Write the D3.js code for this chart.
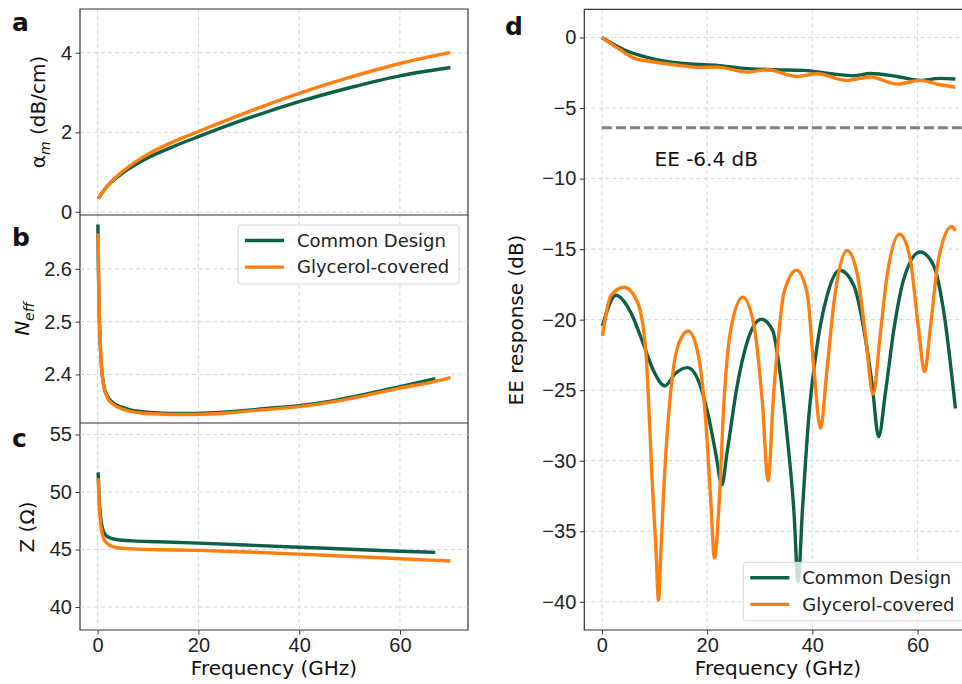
<!DOCTYPE html>
<html>
<head>
<meta charset="utf-8">
<script src="https://d3js.org/d3.v7.min.js"></script>
<style>
    body { margin: 0; background: #fff; }
    svg { display: block; font-family: "DejaVu Sans", sans-serif; }
    .grid line { stroke: #cdd2e2; stroke-dasharray: 4,3; stroke-width: 0.9; }
    .axis text { font-size: 20px; fill: #222; }
    .axis line { stroke: #333; stroke-width: 1; }
    .spine { fill: none; stroke: #333; stroke-width: 1.2; }
    .curve { fill: none; stroke-width: 3.4; stroke-linejoin: round; }
    .label { font-size: 20px; fill: #111; }
    .panel-letter { font-size: 25px; font-weight: bold; fill: #111; }
    .legend text { font-size: 18px; fill: #222; }
</style>
</head>
<body>
<svg class="target" width="962" height="684"></svg>
<script>

    // ---- data: [frequency GHz, value] ----
    let alphaCommon = [[0.1,0.33],[1,0.5],[2.5,0.72],[5,0.98],[10,1.36],[15,1.64],[20,1.89],[30,2.36],[40,2.77],[50,3.12],[60,3.42],[70,3.63]];
    let alphaGlycerol = [[0.1,0.33],[1,0.5],[2.5,0.73],[5,1.02],[10,1.45],[15,1.76],[20,2.02],[30,2.52],[40,2.98],[50,3.38],[60,3.73],[70,4.01]];

    let neffCommon = [[0.05,2.684],[0.15,2.60],[0.3,2.52],[0.5,2.46],[0.8,2.41],[1.2,2.38],[2,2.358],[3,2.347],[4.5,2.339],[6.5,2.333],[8.5,2.330],[12,2.327],[17,2.326],[22,2.327],[27,2.330],[33,2.335],[40,2.341],[46.6,2.350],[53,2.362],[60,2.377],[67,2.392]];
    let neffGlycerol = [[0.1,2.667],[0.2,2.58],[0.35,2.51],[0.55,2.455],[0.85,2.405],[1.25,2.376],[2,2.355],[3,2.344],[4.5,2.336],[6.5,2.330],[8.5,2.327],[12,2.325],[17,2.324],[22,2.325],[27,2.328],[33,2.333],[40,2.339],[46.6,2.348],[53,2.36],[60,2.374],[67,2.387],[70,2.394]];

    let zCommon = [[0.1,51.7],[0.3,49.5],[0.6,47.8],[1,46.8],[1.5,46.3],[2.5,46.0],[4,45.85],[7,45.75],[12,45.68],[20,45.55],[30,45.38],[40,45.2],[50,45.02],[60,44.85],[67,44.75]];
    let zGlycerol = [[0.1,51.2],[0.3,49.0],[0.6,47.2],[1,46.2],[1.5,45.7],[2.5,45.35],[4,45.15],[7,45.05],[12,44.98],[20,44.92],[30,44.78],[40,44.6],[50,44.4],[60,44.2],[70,44.0]];

    let eeTopCommon = [[0,0],[4.2,-0.87],[10.6,-1.58],[16.9,-1.88],[22,-1.98],[26.4,-2.17],[32.7,-2.28],[38.4,-2.33],[43.5,-2.57],[47.9,-2.71],[51,-2.55],[56.1,-2.76],[60.5,-3.04],[64.3,-2.9],[67.2,-2.94]];
    let eeTopGlycerol = [[0,0],[3,-0.75],[6.1,-1.46],[9.3,-1.7],[13.7,-1.93],[18.8,-2.12],[22,-2.1],[27.6,-2.45],[31.4,-2.28],[37.1,-2.76],[40.9,-2.57],[46.6,-3.04],[51,-2.8],[56.1,-3.3],[60.5,-3.04],[64.3,-3.35],[67.2,-3.53]];

    let eeBottomCommon = [[0.1,-20.44],[2.66,-18.27],[5.5,-19.5],[8,-21.85],[9.9,-23.7],[11.95,-24.7],[14,-23.8],[16.3,-23.4],[18.2,-24.2],[20.1,-26.6],[21.6,-29.4],[22.8,-31.7],[23.8,-29.4],[25.7,-24.7],[27.6,-21.6],[30.3,-19.97],[32.5,-20.8],[33.5,-22.8],[35.2,-28.2],[36.5,-33.6],[37.3,-38.6],[38.1,-33.6],[39.3,-27],[40.9,-21.85],[42.8,-18.3],[45.2,-16.5],[47.9,-17.6],[49.8,-20.7],[51.4,-24.7],[52.6,-28.3],[53.9,-25.15],[55.5,-20.7],[57.4,-17.1],[60.5,-15.2],[63.1,-16.2],[65,-19.5],[67.2,-26.3]];
    let eeBottomGlycerol = [[0.1,-21.15],[1.7,-18.3],[4.2,-17.7],[6.8,-18.8],[8.35,-22.3],[9.6,-31.75],[10.3,-36.5],[10.75,-39.9],[11.2,-36.5],[11.8,-31.75],[13.4,-24],[14.7,-21.6],[16.4,-20.8],[18.2,-22.3],[19.7,-27],[20.7,-32.9],[21.4,-36.9],[22.3,-32.9],[23.2,-25.85],[24.5,-20.7],[26.75,-18.4],[28.9,-20.4],[30.5,-25.85],[31.6,-31.4],[32.6,-25.5],[33.3,-22.3],[34.6,-18.1],[37,-16.5],[39,-18.1],[40.3,-23.5],[41.55,-27.7],[42.8,-23.5],[44.1,-18.8],[46.6,-15.1],[48.5,-16.7],[50.1,-21.1],[51.55,-25.3],[52.9,-21.1],[54.2,-16.9],[56.6,-13.95],[58.6,-15.7],[60.2,-20.7],[61.35,-23.7],[62.4,-20.7],[64,-15.7],[66.5,-13.4],[67.2,-13.7]];

    let freqTicks = [0, 20, 40, 60];
    let alphaTicks = [0, 2, 4];
    let neffTicks = [2.4, 2.5, 2.6];
    let zTicks = [40, 45, 50, 55];
    let eeTicks = [0, -5, -10, -15, -20, -25, -30, -35, -40];
    let eeThreshold = -6.4;
    let seriesNames = ["Common Design", "Glycerol-covered"];

    let green = "#0d5f47", orange = "#ff7f0e";

    let svg = d3.select(".target");

    let xLeft = d3.scaleLinear().domain([-3.5, 73.5]).range([80, 468]);
    let xRight = d3.scaleLinear().domain([-3.35, 70.35]).range([584.3, 972]);

    function panel(id, x, y, yTicks, fmt, showX) {
        let g = svg.append("g");
        let [x0, x1] = x.range(), [y1, y0] = y.range();

        svg.append("clipPath").attr("id", "clip-" + id)
            .append("rect").attr("x", x0).attr("y", y0).attr("width", x1 - x0).attr("height", y1 - y0);

        let grid = g.append("g").attr("class", "grid").attr("clip-path", "url(#clip-" + id + ")");
        grid.selectAll(".gx").data(freqTicks).enter().append("line")
            .attr("x1", d => x(d)).attr("x2", d => x(d)).attr("y1", y0).attr("y2", y1);
        grid.selectAll(".gy").data(yTicks).enter().append("line")
            .attr("y1", d => y(d)).attr("y2", d => y(d)).attr("x1", x0).attr("x2", x1);

        let ya = g.append("g").attr("class", "axis").attr("transform", "translate(" + x0 + ",0)")
            .call(d3.axisLeft(y).tickValues(yTicks).tickFormat(fmt).tickSize(4.5).tickPadding(3.5));
        ya.select(".domain").remove();

        if (showX) {
            let xa = g.append("g").attr("class", "axis").attr("transform", "translate(0," + y1 + ")")
                .call(d3.axisBottom(x).tickValues(freqTicks).tickFormat(d3.format("d")).tickSize(4.5).tickPadding(3.5));
            xa.select(".domain").remove();
        }

        let plot = g.append("g").attr("clip-path", "url(#clip-" + id + ")");
        return {g: g, plot: plot, x: x, y: y, x0: x0, x1: x1, y0: y0, y1: y1};
    }

    function curve(p, data, color, shape) {
        let line = d3.line()
            .x(d => p.x(d[0]))
            .y(d => p.y(d[1]))
            .curve(shape || d3.curveMonotoneX);
        p.plot.append("path").attr("class", "curve").attr("d", line(data)).attr("stroke", color);
    }

    function spine(p, sides) {
        p.g.append("path").attr("class", "spine").attr("d", sides);
    }

    function legend(x0, y0, w, h) {
        let lg = svg.append("g").attr("class", "legend");
        lg.append("rect").attr("x", x0).attr("y", y0).attr("width", w).attr("height", h)
            .attr("rx", 3).attr("fill", "#fff").attr("fill-opacity", 0.8)
            .attr("stroke", "#d6d6d6").attr("stroke-width", 1);
        [green, orange].forEach((c, i) => {
            let yy = y0 + 15.5 + i * 26.6;
            lg.append("line").attr("x1", x0 + 7).attr("x2", x0 + 46).attr("y1", yy).attr("y2", yy)
                .attr("stroke", c).attr("stroke-width", 3.4);
            lg.append("text").attr("x", x0 + 59).attr("y", yy).attr("dy", "0.35em").text(seriesNames[i]);
        });
    }

    function yLabel(x, y, build) {
        let t = svg.append("text").attr("class", "label")
            .attr("transform", "translate(" + x + "," + y + ") rotate(-90)")
            .attr("text-anchor", "middle");
        build(t);
    }

    // ---- panel a ----
    let pa = panel("a", xLeft, d3.scaleLinear().domain([-0.08, 5.1]).range([215, 9]), alphaTicks, d3.format("d"), false);
    curve(pa, alphaCommon, green);
    curve(pa, alphaGlycerol, orange);

    // ---- panel b ----
    let pb = panel("b", xLeft, d3.scaleLinear().domain([2.308, 2.702]).range([423, 215]), neffTicks, d3.format(".1f"), false);
    curve(pb, neffCommon, green);
    curve(pb, neffGlycerol, orange);

    // ---- panel c ----
    let pc = panel("c", xLeft, d3.scaleLinear().domain([38, 56]).range([630, 423]), zTicks, d3.format("d"), true);
    curve(pc, zCommon, green);
    curve(pc, zGlycerol, orange);

    spine(pa, "M80,9H468V630H80Z");
    svg.append("path").attr("class", "spine").attr("stroke", "#111").attr("d", "M80,215H468M80,423H468");

    legend(238, 225, 221, 59);

    // ---- panel d ----
    let pd = panel("d", xRight, d3.scaleLinear().domain([-42, 2]).range([630, 9.3]), eeTicks, d3.format("d"), true);
    curve(pd, eeTopCommon, green);
    curve(pd, eeTopGlycerol, orange);
    curve(pd, eeBottomCommon, green);
    curve(pd, eeBottomGlycerol, orange);

    pd.plot.append("line")
        .attr("x1", xRight(0)).attr("x2", xRight(70))
        .attr("y1", pd.y(eeThreshold)).attr("y2", pd.y(eeThreshold))
        .attr("stroke", "#808080").attr("stroke-width", 3).attr("stroke-dasharray", "10,4");

    svg.append("text").attr("class", "label")
        .attr("x", xRight(10)).attr("y", pd.y(-9.1))
        .text("EE -6.4 dB");

    spine(pd, "M972,9.3H584.3V630H972");

    legend(743.3, 562.3, 221, 58.5);

    // ---- labels ----
    yLabel(45, 112, t => {
        t.append("tspan").text("α");
        t.append("tspan").attr("font-style", "italic").attr("font-size", "14px").attr("dy", "5").text("m");
        t.append("tspan").attr("dy", "-5").text(" (dB/cm)");
    });
    yLabel(29, 319, t => {
        t.append("tspan").attr("font-style", "italic").text("N");
        t.append("tspan").attr("font-style", "italic").attr("font-size", "14px").attr("dy", "5").text("eff");
    });
    yLabel(34, 527, t => t.text("Z (Ω)"));
    yLabel(523, 320, t => t.text("EE response (dB)"));

    svg.append("text").attr("class", "label").attr("text-anchor", "middle")
        .attr("x", 274).attr("y", 675).text("Frequency (GHz)");
    svg.append("text").attr("class", "label").attr("text-anchor", "middle")
        .attr("x", 778).attr("y", 675).text("Frequency (GHz)");

    [["a", 12, 31], ["b", 12, 246], ["c", 12, 447], ["d", 505, 35]].forEach(l => {
        svg.append("text").attr("class", "panel-letter").attr("x", l[1]).attr("y", l[2]).text(l[0]);
    });

</script>
</body>
</html>
